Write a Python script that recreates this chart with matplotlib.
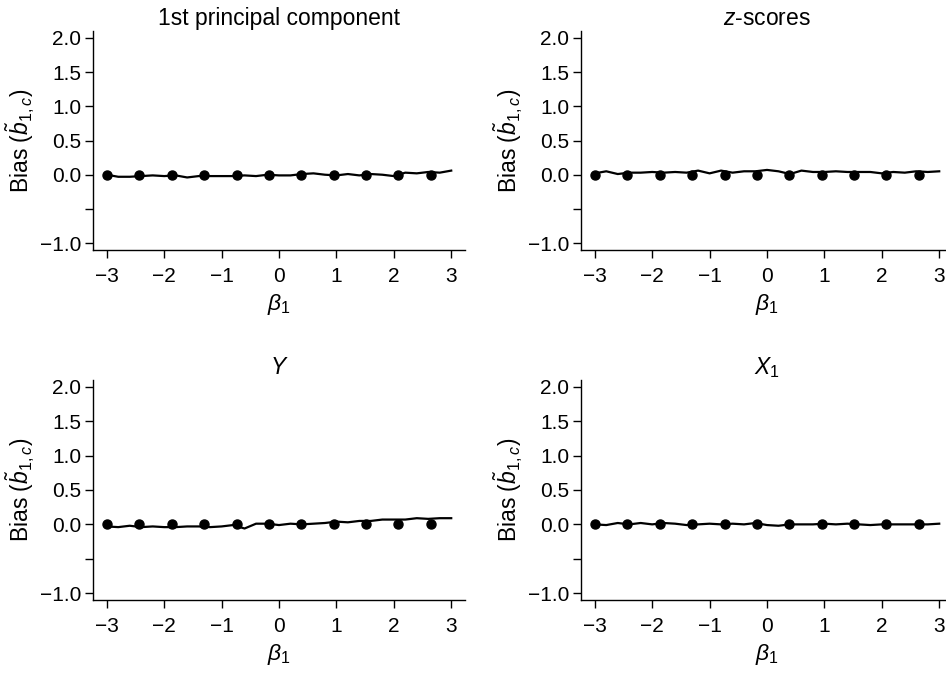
import matplotlib.pyplot as plt

plt.rcParams['font.family'] = ['Liberation Sans', 'DejaVu Sans']
plt.rcParams['mathtext.fontset'] = 'custom'
plt.rcParams['mathtext.rm'] = 'Liberation Sans'
plt.rcParams['mathtext.it'] = 'Liberation Sans:italic'
plt.rcParams['mathtext.bf'] = 'Liberation Sans:bold'

# beta_1 grid for the smoothed bias lines
beta = [-3.0, -2.8, -2.6, -2.4, -2.2, -2.0, -1.8, -1.6, -1.4, -1.2, -1.0,
        -0.8, -0.6, -0.4, -0.2, 0.0, 0.2, 0.4, 0.6, 0.8, 1.0,
        1.2, 1.4, 1.6, 1.8, 2.0, 2.2, 2.4, 2.6, 2.8, 3.0]

bias_pc = [0.0, -0.03, -0.03, -0.02, -0.01, -0.02, -0.01, -0.04, -0.02, -0.02, -0.02,
           -0.02, -0.01, -0.02, 0.0, -0.01, -0.01, 0.01, 0.02, 0.0, -0.01,
           0.01, -0.01, 0.01, 0.0, -0.02, 0.03, 0.02, 0.04, 0.03, 0.06]
bias_z = [0.02, 0.05, 0.01, 0.03, 0.03, 0.04, 0.03, 0.04, 0.03, 0.06, 0.02,
          0.06, 0.03, 0.05, 0.05, 0.07, 0.05, 0.01, 0.06, 0.04, 0.04,
          0.05, 0.04, 0.04, 0.04, 0.02, 0.04, 0.03, 0.05, 0.04, 0.05]
bias_y = [-0.03, -0.04, -0.02, -0.04, -0.03, -0.04, -0.04, -0.03, -0.03, -0.04, -0.03,
          -0.01, -0.06, 0.01, 0.01, -0.01, 0.01, 0.0, 0.01, 0.02, 0.04,
          0.03, 0.05, 0.05, 0.07, 0.07, 0.07, 0.09, 0.08, 0.09, 0.09]
bias_x1 = [0.0, -0.01, 0.02, 0.0, 0.02, 0.0, 0.02, 0.01, -0.01, 0.0, 0.01,
           0.0, 0.01, 0.0, 0.02, -0.01, -0.02, 0.0, 0.0, 0.0, 0.01,
           0.0, 0.01, 0.0, -0.01, 0.0, 0.0, 0.0, 0.0, 0.0, 0.01]

# true values (dots)
beta_pts = [-3.0, -2.44, -1.87, -1.31, -0.74, -0.18, 0.39, 0.95, 1.52, 2.08, 2.64]
true_bias = [0.0] * 11

titles = ['1st principal component', r'$z$-scores', r'$Y$', r'$X_1$']
series = [bias_pc, bias_z, bias_y, bias_x1]

yticks = [-1.0, -0.5, 0.0, 0.5, 1.0, 1.5, 2.0]
yticklabels = ['\u22121.0', '', '0.0', '0.5', '1.0', '1.5', '2.0']
xticks = [-3, -2, -1, 0, 1, 2, 3]
xticklabels = ['\u22123', '\u22122', '\u22121', '0', '1', '2', '3']

fig = plt.figure(figsize=(9.46, 6.75), dpi=100)

W, H = 946, 675
boxes = [(93, 31, 372, 219), (581, 31, 372, 219),
         (93, 380, 372, 220), (581, 380, 372, 220)]

for (l, t, w, h), title, ys in zip(boxes, titles, series):
    ax = fig.add_axes([l / W, 1 - (t + h) / H, w / W, h / H])
    ax.plot(beta, ys, color='black', lw=1.6, zorder=2)
    ax.plot(beta_pts, true_bias, 'o', color='black', ms=6.5, zorder=3)
    ax.set_xlim(-3.24, 3.24)
    ax.set_ylim(-1.1, 2.1)
    ax.spines['top'].set_visible(False)
    ax.spines['right'].set_visible(False)
    ax.spines['left'].set_linewidth(1.0)
    ax.spines['bottom'].set_linewidth(1.0)
    ax.set_yticks(yticks)
    ax.set_yticklabels(yticklabels)
    ax.set_xticks(xticks)
    ax.set_xticklabels(xticklabels)
    ax.tick_params(direction='out', length=5.5, width=1.0, labelsize=15)
    ax.tick_params(axis='x', pad=7)
    ax.tick_params(axis='y', pad=3)
    ax.set_title(title, fontsize=16.5, pad=4)
    ax.set_xlabel(r'$\beta_1$', fontsize=16.5, labelpad=4)
    ax.set_ylabel(r'Bias ($\tilde{b}_{1,c}$)', fontsize=16.5, labelpad=2)

fig.savefig('out.png', dpi=100)
